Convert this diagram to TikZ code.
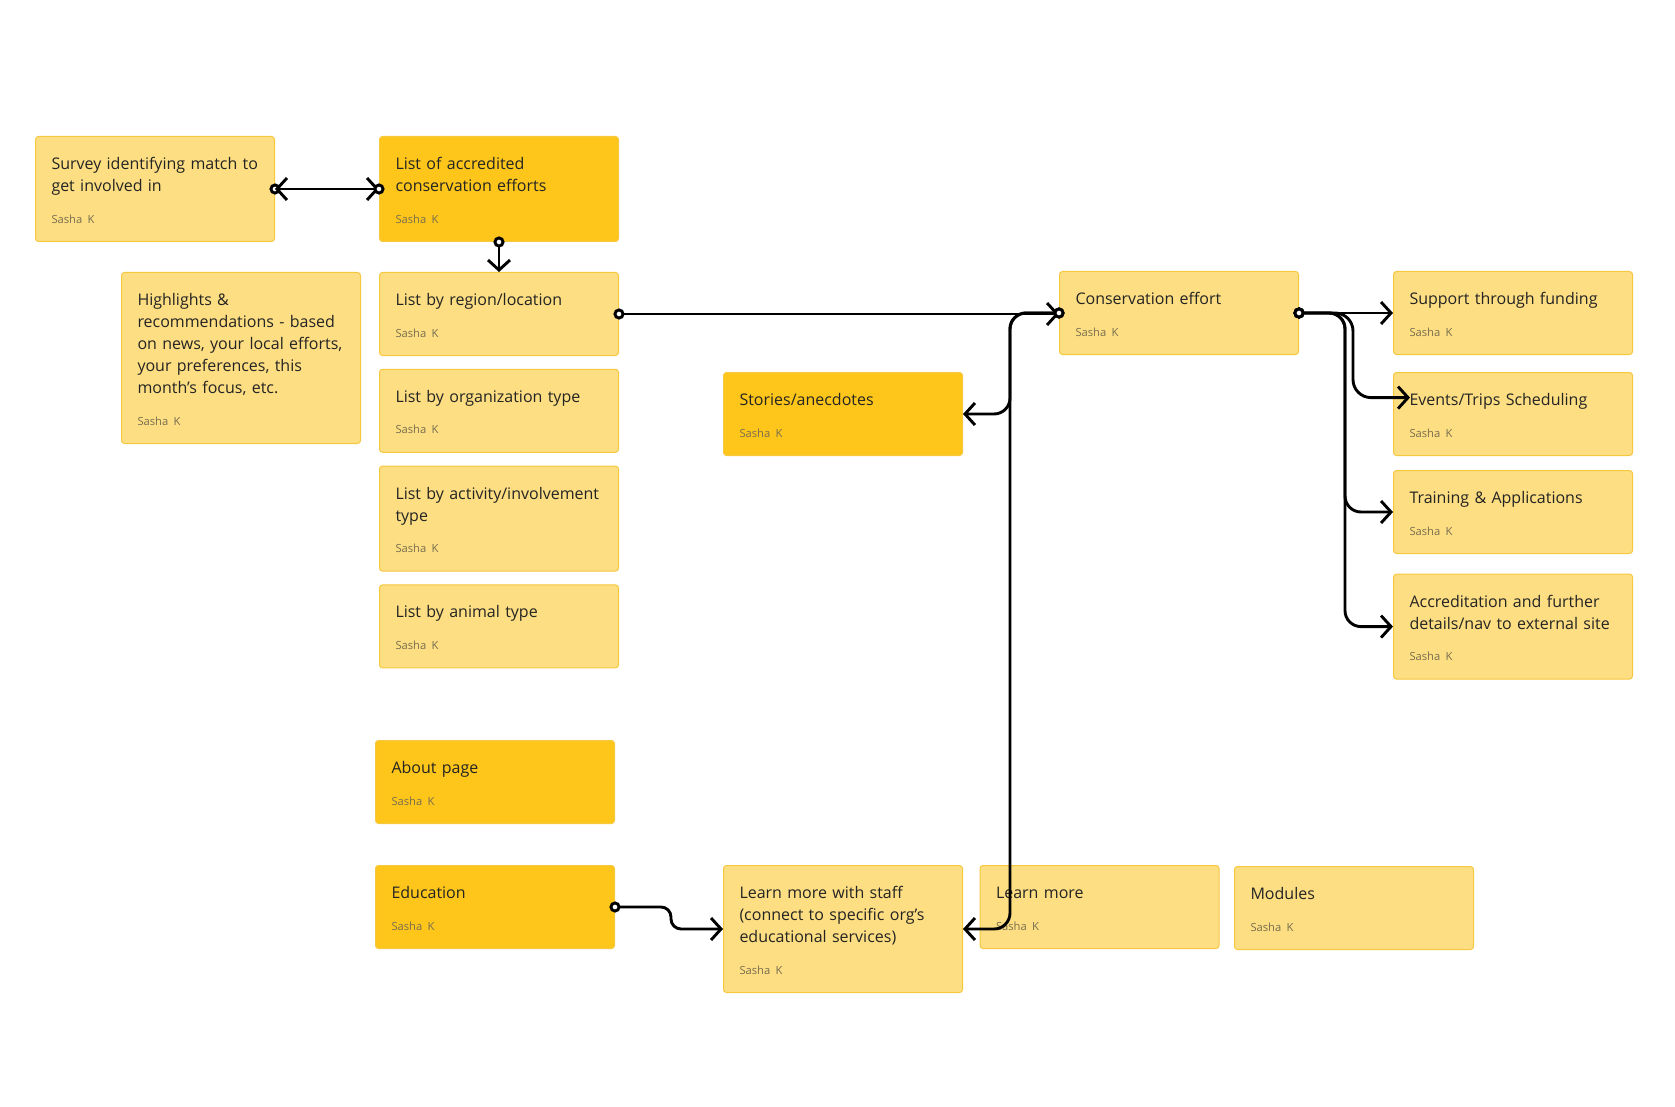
\documentclass[tikz,border=0pt]{standalone}
\usepackage{fontspec}
\setmainfont{Open Sans}
\usetikzlibrary{positioning, arrows.meta}
\definecolor{noteLight}{RGB}{253,222,130}
\definecolor{noteDark}{RGB}{254,198,26}
\definecolor{noteEdge}{RGB}{246,200,64}
\definecolor{noteText}{RGB}{36,36,36}
\definecolor{authorGray}{RGB}{120,110,80}
\newcommand{\stickytext}[1]{\rule{0pt}{16.5pt}#1\\[4.8pt]{\fontsize{5.6}{7}\selectfont\color{authorGray}Sasha K}\rule[-9.2pt]{0pt}{9.2pt}}
\tikzstyle{card} = [rectangle, rounded corners=1.5pt, fill=noteLight, draw=noteEdge, line width=0.5pt, text width=103.5pt, inner xsep=8pt, inner ysep=0pt, align=left, text=noteText, font=\fontsize{8}{11}\selectfont]
\tikzstyle{cardDark} = [card, fill=noteDark]
\tikzstyle{conn} = [line width=1.45pt, {Circle[fill=white,length=5.5pt]}-{Straight Barb[length=5pt,width=11pt]}, shorten <=-2.75pt, rounded corners=8pt]

\begin{document}
\begin{tikzpicture}[x=0.5pt,y=-0.5pt]
		\fill[white] (0,0) rectangle (1675,1107);
		% left side
		\node (survey) [card, anchor=north west] at (35,136) {\stickytext{Survey identifying match to\\get involved in}};
		\node (accredited) [cardDark, anchor=north west] at (379,136) {\stickytext{List of accredited\\conservation efforts}};
		\node (highlights) [card, anchor=north west] at (121,272) {\stickytext{Highlights \&\\recommendations - based\\on news, your local efforts,\\your preferences, this\\month's focus, etc.}};
		\node (region) [card, anchor=north west] at (379,272) {\stickytext{List by region/location}};
		\node (orgtype) [card, below=6.4pt of region] {\stickytext{List by organization type}};
		\node (activity) [card, below=6.4pt of orgtype] {\stickytext{List by activity/involvement\\type}};
		\node (animal) [card, below=6.4pt of activity] {\stickytext{List by animal type}};
		\node (about) [cardDark, anchor=north west] at (375,740) {\stickytext{About page}};
		\node (education) [cardDark, anchor=north west] at (375,865) {\stickytext{Education}};
		% middle
		\node (stories) [cardDark, anchor=north west] at (723,372) {\stickytext{Stories/anecdotes}};
		\node (cons) [card, anchor=north west] at (1059,271) {\stickytext{Conservation effort}};
		\node (staff) [card, anchor=north west] at (723,865) {\stickytext{Learn more with staff\\(connect to specific org's\\educational services)}};
		\node (learnmore) [card, anchor=north west] at (979.5,865) {\stickytext{Learn more}};
		\node (modules) [card, anchor=north west] at (1234,866) {\stickytext{Modules}};
		% right side
		\node (support) [card, anchor=north west] at (1393,271) {\stickytext{Support through funding}};
		\node (events) [card, anchor=north west] at (1393,372) {\stickytext{Events/Trips Scheduling}};
		\node (training) [card, anchor=north west] at (1393,470) {\stickytext{Training \& Applications}};
		\node (accreditation) [card, anchor=north west] at (1393,573.6) {\stickytext{Accreditation and further\\details/nav to external site}};
		\coordinate (trunk) at (1010,0);
		\coordinate (splitA) at (1345,0);
		\coordinate (splitB) at (1353,0);
		\coordinate (eventsIn) at ([xshift=8.5pt,yshift=8.2pt]events.west);
		\draw [conn] (survey.east) -- (accredited.west);
		\draw [conn] (accredited.west) -- (survey.east);
		\draw [conn] (accredited.south) -- (region.north);
		\draw [conn] (region.east) -- (region.east -| cons.west);
		\draw [conn] (cons.west) -| (trunk |- stories.east) -- (stories.east);
		\draw [conn] (cons.west) -| (trunk |- staff.east) -- (staff.east);
		\draw [conn, rounded corners=5pt] (education.east) -| ([xshift=-26pt]staff.west) -- (staff.west);
		\draw [conn] (cons.east) -- (support.west);
		\draw [conn, rounded corners=9pt] (cons.east) -| (splitB |- eventsIn) -- (eventsIn);
		\draw [conn] (cons.east) -| (splitA |- training.west) -- (training.west);
		\draw [conn] (cons.east) -| (splitA |- accreditation.west) -- (accreditation.west);
	\end{tikzpicture}
\end{document}
